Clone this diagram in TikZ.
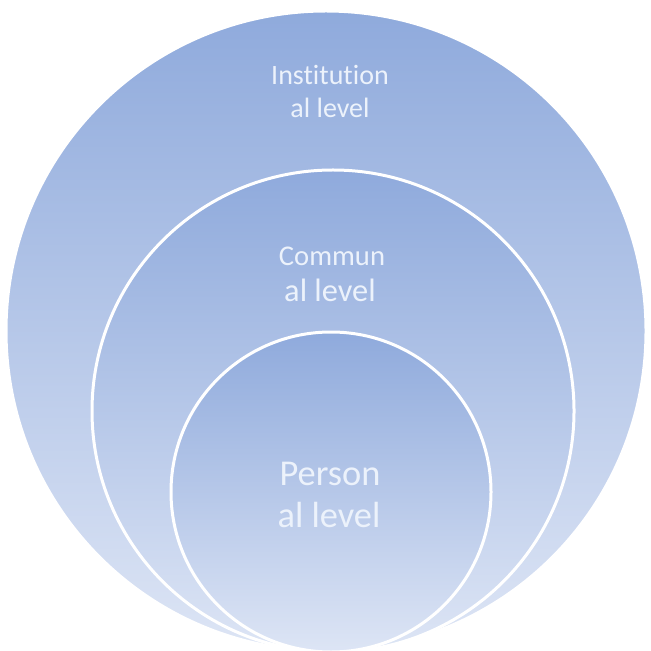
\documentclass[tikz,border=0pt]{standalone}
\usepackage{fontspec}
\setmainfont[Ligatures=NoCommon]{Carlito}
\definecolor{lvtop}{RGB}{143,170,220}
\definecolor{lvbot}{RGB}{221,229,245}
\definecolor{lvtext}{RGB}{236,242,251}
\tikzset{
	level/.style={circle, draw=white, line width=1.5pt, inner sep=0pt, top color=lvtop, bottom color=lvbot},
	lbl/.style={text=lvtext, anchor=base, inner sep=0pt}
}

\begin{document}
\begin{tikzpicture}[x=0.5pt, y=-0.5pt]
%frame
	\useasboundingbox (0,0) rectangle (650,651);
	
	%circles
	\node[level, minimum size=320pt] (outer) at (326,331) {};
	\node[level, minimum size=241pt] (mid) at (333,411) {};
	\node[level, minimum size=160pt] (inner) at (331,492) {};
	
	%labels
	\node[lbl, font=\fontsize{14}{16}\selectfont] (inst) at (330,85) {Institution};
	\node[lbl, font=\fontsize{14}{16}\selectfont] (instb) at (330,118) {al level};
	\node[lbl, font=\fontsize{14.3}{16}\selectfont] (comm) at (332,266) {Commun};
	\node[lbl, font=\fontsize{16.2}{18}\selectfont] (commb) at (330,302) {al level};
	\node[lbl, font=\fontsize{18.2}{20}\selectfont] (pers) at (330,485) {Person};
	\node[lbl, font=\fontsize{18.2}{20}\selectfont] (persb) at (329,527) {al level};
	\end{tikzpicture}
\end{document}
